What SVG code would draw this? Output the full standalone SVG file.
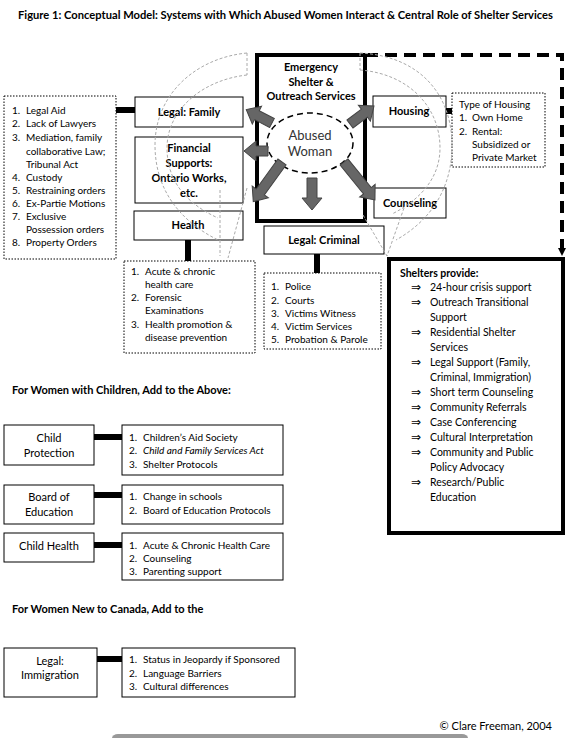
<svg xmlns="http://www.w3.org/2000/svg" width="571" height="738" viewBox="0 0 571 738">
<defs>
<style>
text{font-family:Lato,"Liberation Sans",sans-serif;fill:#000}
.t{font-size:10px}
.b{font-size:11px;font-weight:bold}
.bc{font-size:11px;font-weight:bold;text-anchor:middle}
.c{font-size:11px;text-anchor:middle}
.s{font-size:10.5px}
.ar{font-family:"DejaVu Sans",sans-serif;font-size:12px}
.box{fill:#fff;stroke:#000;stroke-width:1}
.dot{fill:#fff;stroke:#000;stroke-width:1;stroke-dasharray:1.5 1.5}
.thick{fill:none;stroke:#000;stroke-width:4}
.con{stroke:#000;stroke-width:6;fill:none}
.arc{fill:none;stroke:#aaa;stroke-width:1;stroke-dasharray:3 2}
.ba{fill:#666;stroke:#444;stroke-width:1}
</style>
<marker id="ah" markerWidth="8" markerHeight="8" refX="4" refY="4" orient="auto" markerUnits="userSpaceOnUse" viewBox="0 0 8 8">
<path d="M0,0 L8,4 L0,8 Z" fill="#000"/>
</marker>
</defs>
<rect width="571" height="738" fill="#fff"/>
<text x="18" y="19" class="b" textLength="535" lengthAdjust="spacingAndGlyphs">Figure 1: Conceptual Model: Systems with Which Abused Women Interact &amp; Central Role of Shelter Services</text>

<g id="connectors">
<path class="thick" d="M366,55 H562 V252" stroke-dasharray="12 7" marker-end="url(#ah)"/>
<line class="con" x1="116" y1="110" x2="135" y2="110"/>
<line class="con" x1="446" y1="111" x2="453" y2="111"/>
<line class="con" x1="188" y1="240" x2="188" y2="262"/>
<line class="con" x1="317" y1="254" x2="317" y2="274"/>
<line class="con" x1="94" y1="437" x2="122" y2="437"/>
<line class="con" x1="94" y1="495" x2="122" y2="495"/>
<line class="con" x1="94" y1="545" x2="122" y2="545"/>
<line class="con" x1="97" y1="659" x2="122" y2="659"/>
</g>

<g id="shelter">
<rect x="257" y="55" width="108" height="166" class="thick" fill="#fff"/>
<text x="311" y="71" class="bc">Emergency</text>
<text x="311" y="86" class="bc">Shelter &amp;</text>
<text x="311" y="100" class="bc">Outreach Services</text>
</g>

<g id="abused-woman">
<ellipse cx="310" cy="143" rx="43" ry="30" fill="none" stroke="#000" stroke-width="1.5" stroke-dasharray="6 4"/>
<text x="310" y="140" class="c" style="font-size:13px;fill:#333">Abused</text>
<text x="310" y="156" class="c" style="font-size:13px;fill:#333">Woman</text>
</g>

<g id="legal-family">
<rect x="135" y="97" width="108" height="30" class="box"/>
<text x="189" y="116" class="bc">Legal: Family</text>
</g>
<g id="legal-family-list">
<rect x="4" y="96" width="112" height="163" class="dot"/>
<text class="t" x="12" y="114">1.</text><text class="t" x="26" y="114">Legal Aid</text>
<text class="t" x="12" y="127">2.</text><text class="t" x="26" y="127">Lack of Lawyers</text>
<text class="t" x="12" y="141">3.</text><text class="t" x="26" y="141">Mediation, family</text>
<text class="t" x="26" y="155">collaborative Law;</text>
<text class="t" x="26" y="168">Tribunal Act</text>
<text class="t" x="12" y="181">4.</text><text class="t" x="26" y="181">Custody</text>
<text class="t" x="12" y="194">5.</text><text class="t" x="26" y="194">Restraining orders</text>
<text class="t" x="12" y="207">6.</text><text class="t" x="26" y="207">Ex-Partie Motions</text>
<text class="t" x="12" y="220">7.</text><text class="t" x="26" y="220">Exclusive</text>
<text class="t" x="26" y="233">Possession orders</text>
<text class="t" x="12" y="246">8.</text><text class="t" x="26" y="246">Property Orders</text>
</g>

<g id="financial">
<rect x="135" y="137" width="108" height="66" class="box"/>
<text x="189" y="152" class="bc">Financial</text>
<text x="189" y="167" class="bc">Supports:</text>
<text x="189" y="182" class="bc">Ontario Works,</text>
<text x="189" y="197" class="bc">etc.</text>
</g>

<g id="health">
<rect x="134" y="211" width="109" height="29" class="box"/>
<text x="188" y="229" class="bc">Health</text>
</g>
<g id="health-list">
<rect x="124" y="261" width="131" height="92" class="dot"/>
<text class="t" x="131" y="275">1.</text><text class="t" x="145" y="275">Acute &amp; chronic</text>
<text class="t" x="145" y="288">health care</text>
<text class="t" x="131" y="301">2.</text><text class="t" x="145" y="301">Forensic</text>
<text class="t" x="145" y="314">Examinations</text>
<text class="t" x="131" y="328">3.</text><text class="t" x="145" y="328">Health promotion &amp;</text>
<text class="t" x="145" y="341">disease prevention</text>
</g>

<g id="legal-criminal">
<rect x="264" y="226" width="120" height="28" class="box"/>
<text x="324" y="244" class="bc">Legal: Criminal</text>
</g>
<g id="criminal-list">
<rect x="264" y="273" width="117" height="76" class="dot"/>
<text class="t" x="271" y="290">1.</text><text class="t" x="285" y="290">Police</text>
<text class="t" x="271" y="304">2.</text><text class="t" x="285" y="304">Courts</text>
<text class="t" x="271" y="317">3.</text><text class="t" x="285" y="317">Victims Witness</text>
<text class="t" x="271" y="330">4.</text><text class="t" x="285" y="330">Victim Services</text>
<text class="t" x="271" y="343">5.</text><text class="t" x="285" y="343">Probation &amp; Parole</text>
</g>

<g id="housing">
<rect x="373" y="96" width="73" height="31" class="box"/>
<text x="409" y="115" class="bc">Housing</text>
</g>
<g id="housing-list">
<rect x="452" y="93" width="93" height="74" class="dot"/>
<text class="t" x="459" y="108">Type of Housing</text>
<text class="t" x="459" y="121">1.</text><text class="t" x="472" y="121">Own Home</text>
<text class="t" x="459" y="135">2.</text><text class="t" x="472" y="135">Rental:</text>
<text class="t" x="472" y="148">Subsidized or</text>
<text class="t" x="472" y="161">Private Market</text>
</g>

<g id="counseling">
<rect x="374" y="188" width="72" height="30" class="box"/>
<text x="410" y="207" class="bc">Counseling</text>
</g>

<g id="arcs">
<path class="arc" d="M247,53 C195,58 155,95 155,145 C155,188 178,220 218,240"/>
<path class="arc" d="M247,75 C202,80 167,110 167,148 C167,180 185,203 218,218"/>
<path class="arc" d="M247,53 V75"/>
<path class="arc" d="M220,190 V256 M247,188 L228,258"/>
<path class="arc" d="M360,53 C420,56 453,95 452,148 C451,192 428,222 396,240"/>
<path class="arc" d="M360,70 C410,74 440,108 440,148 C440,178 420,200 392,214"/>
<path class="arc" d="M360,53 V70"/>
<path class="arc" d="M404,208 L387,256 M363,215 L387,256"/>
</g>

<g id="arrows">
<path class="ba" transform="translate(272,123) rotate(207.5)" d="M0,-5 H17 V-10 L29,0 L17,10 V5 H0 Z"/>
<path class="ba" transform="translate(268,151) rotate(180)" d="M0,-5 H12 V-10 L24,0 L12,10 V5 H0 Z"/>
<path class="ba" transform="translate(282,162) rotate(125.9)" d="M0,-5 H37 V-10 L49,0 L37,10 V5 H0 Z"/>
<path class="ba" transform="translate(312,178) rotate(90)" d="M0,-5 H20 V-10 L32,0 L20,10 V5 H0 Z"/>
<path class="ba" transform="translate(344,162) rotate(50.8)" d="M0,-5 H37 V-10 L49,0 L37,10 V5 H0 Z"/>
<path class="ba" transform="translate(350,124) rotate(-36.9)" d="M0,-5 H18 V-10 L30,0 L18,10 V5 H0 Z"/>
</g>

<g id="shelters-provide">
<rect x="389" y="259" width="174" height="274" class="thick" fill="#fff"/>
<text x="400" y="277" class="b" style="font-size:10.5px">Shelters provide:</text>
<text class="ar" x="411" y="291">⇒</text><text class="s" x="430" y="291">24-hour crisis support</text>
<text class="ar" x="411" y="306">⇒</text><text class="s" x="430" y="306">Outreach Transitional</text>
<text class="s" x="430" y="321">Support</text>
<text class="ar" x="411" y="336">⇒</text><text class="s" x="430" y="336">Residential Shelter</text>
<text class="s" x="430" y="351">Services</text>
<text class="ar" x="411" y="366">⇒</text><text class="s" x="430" y="366">Legal Support (Family,</text>
<text class="s" x="430" y="381">Criminal, Immigration)</text>
<text class="ar" x="411" y="396">⇒</text><text class="s" x="430" y="396">Short term Counseling</text>
<text class="ar" x="411" y="411">⇒</text><text class="s" x="430" y="411">Community Referrals</text>
<text class="ar" x="411" y="426">⇒</text><text class="s" x="430" y="426">Case Conferencing</text>
<text class="ar" x="411" y="441">⇒</text><text class="s" x="430" y="441">Cultural Interpretation</text>
<text class="ar" x="411" y="456">⇒</text><text class="s" x="430" y="456">Community and Public</text>
<text class="s" x="430" y="471">Policy Advocacy</text>
<text class="ar" x="411" y="486">⇒</text><text class="s" x="430" y="486">Research/Public</text>
<text class="s" x="430" y="501">Education</text>
</g>

<text x="12" y="394" class="b">For Women with Children, Add to the Above:</text>

<g id="child-protection">
<rect x="4" y="425" width="90" height="40" class="box"/>
<text x="49" y="442" class="c">Child</text>
<text x="49" y="457" class="c">Protection</text>
</g>
<g id="child-protection-list">
<rect x="122" y="425" width="161" height="50" class="box"/>
<text class="t" x="129" y="441">1.</text><text class="t" x="143" y="441">Children’s Aid Society</text>
<text class="t" x="129" y="454">2.</text><text class="t" x="143" y="454" font-style="italic">Child and Family Services Act</text>
<text class="t" x="129" y="468">3.</text><text class="t" x="143" y="468">Shelter Protocols</text>
</g>

<g id="board-of-education">
<rect x="4" y="485" width="90" height="39" class="box"/>
<text x="49" y="501" class="c">Board of</text>
<text x="49" y="516" class="c">Education</text>
</g>
<g id="board-list">
<rect x="122" y="485" width="161" height="39" class="box"/>
<text class="t" x="129" y="500">1.</text><text class="t" x="143" y="500">Change in schools</text>
<text class="t" x="129" y="514">2.</text><text class="t" x="143" y="514">Board of Education Protocols</text>
</g>

<g id="child-health">
<rect x="4" y="533" width="90" height="29" class="box"/>
<text x="49" y="550" class="c">Child Health</text>
</g>
<g id="child-health-list">
<rect x="122" y="533" width="161" height="47" class="box"/>
<text class="t" x="129" y="549">1.</text><text class="t" x="143" y="549">Acute &amp; Chronic Health Care</text>
<text class="t" x="129" y="562">2.</text><text class="t" x="143" y="562">Counseling</text>
<text class="t" x="129" y="575">3.</text><text class="t" x="143" y="575">Parenting support</text>
</g>

<text x="12" y="613" class="b">For Women New to Canada, Add to the</text>

<g id="legal-immigration">
<rect x="4" y="648" width="93" height="49" class="box"/>
<text x="50" y="665" class="c">Legal:</text>
<text x="50" y="679" class="c">Immigration</text>
</g>
<g id="immigration-list">
<rect x="122" y="648" width="173" height="49" class="box"/>
<text class="t" x="129" y="663">1.</text><text class="t" x="143" y="663">Status in Jeopardy if Sponsored</text>
<text class="t" x="129" y="677">2.</text><text class="t" x="143" y="677">Language Barriers</text>
<text class="t" x="129" y="690">3.</text><text class="t" x="143" y="690">Cultural differences</text>
</g>

<text x="552" y="730" class="t" style="font-size:11px;text-anchor:end">© Clare Freeman, 2004</text>
<rect x="112" y="734" width="356" height="8" rx="6" fill="#999"/>
</svg>
